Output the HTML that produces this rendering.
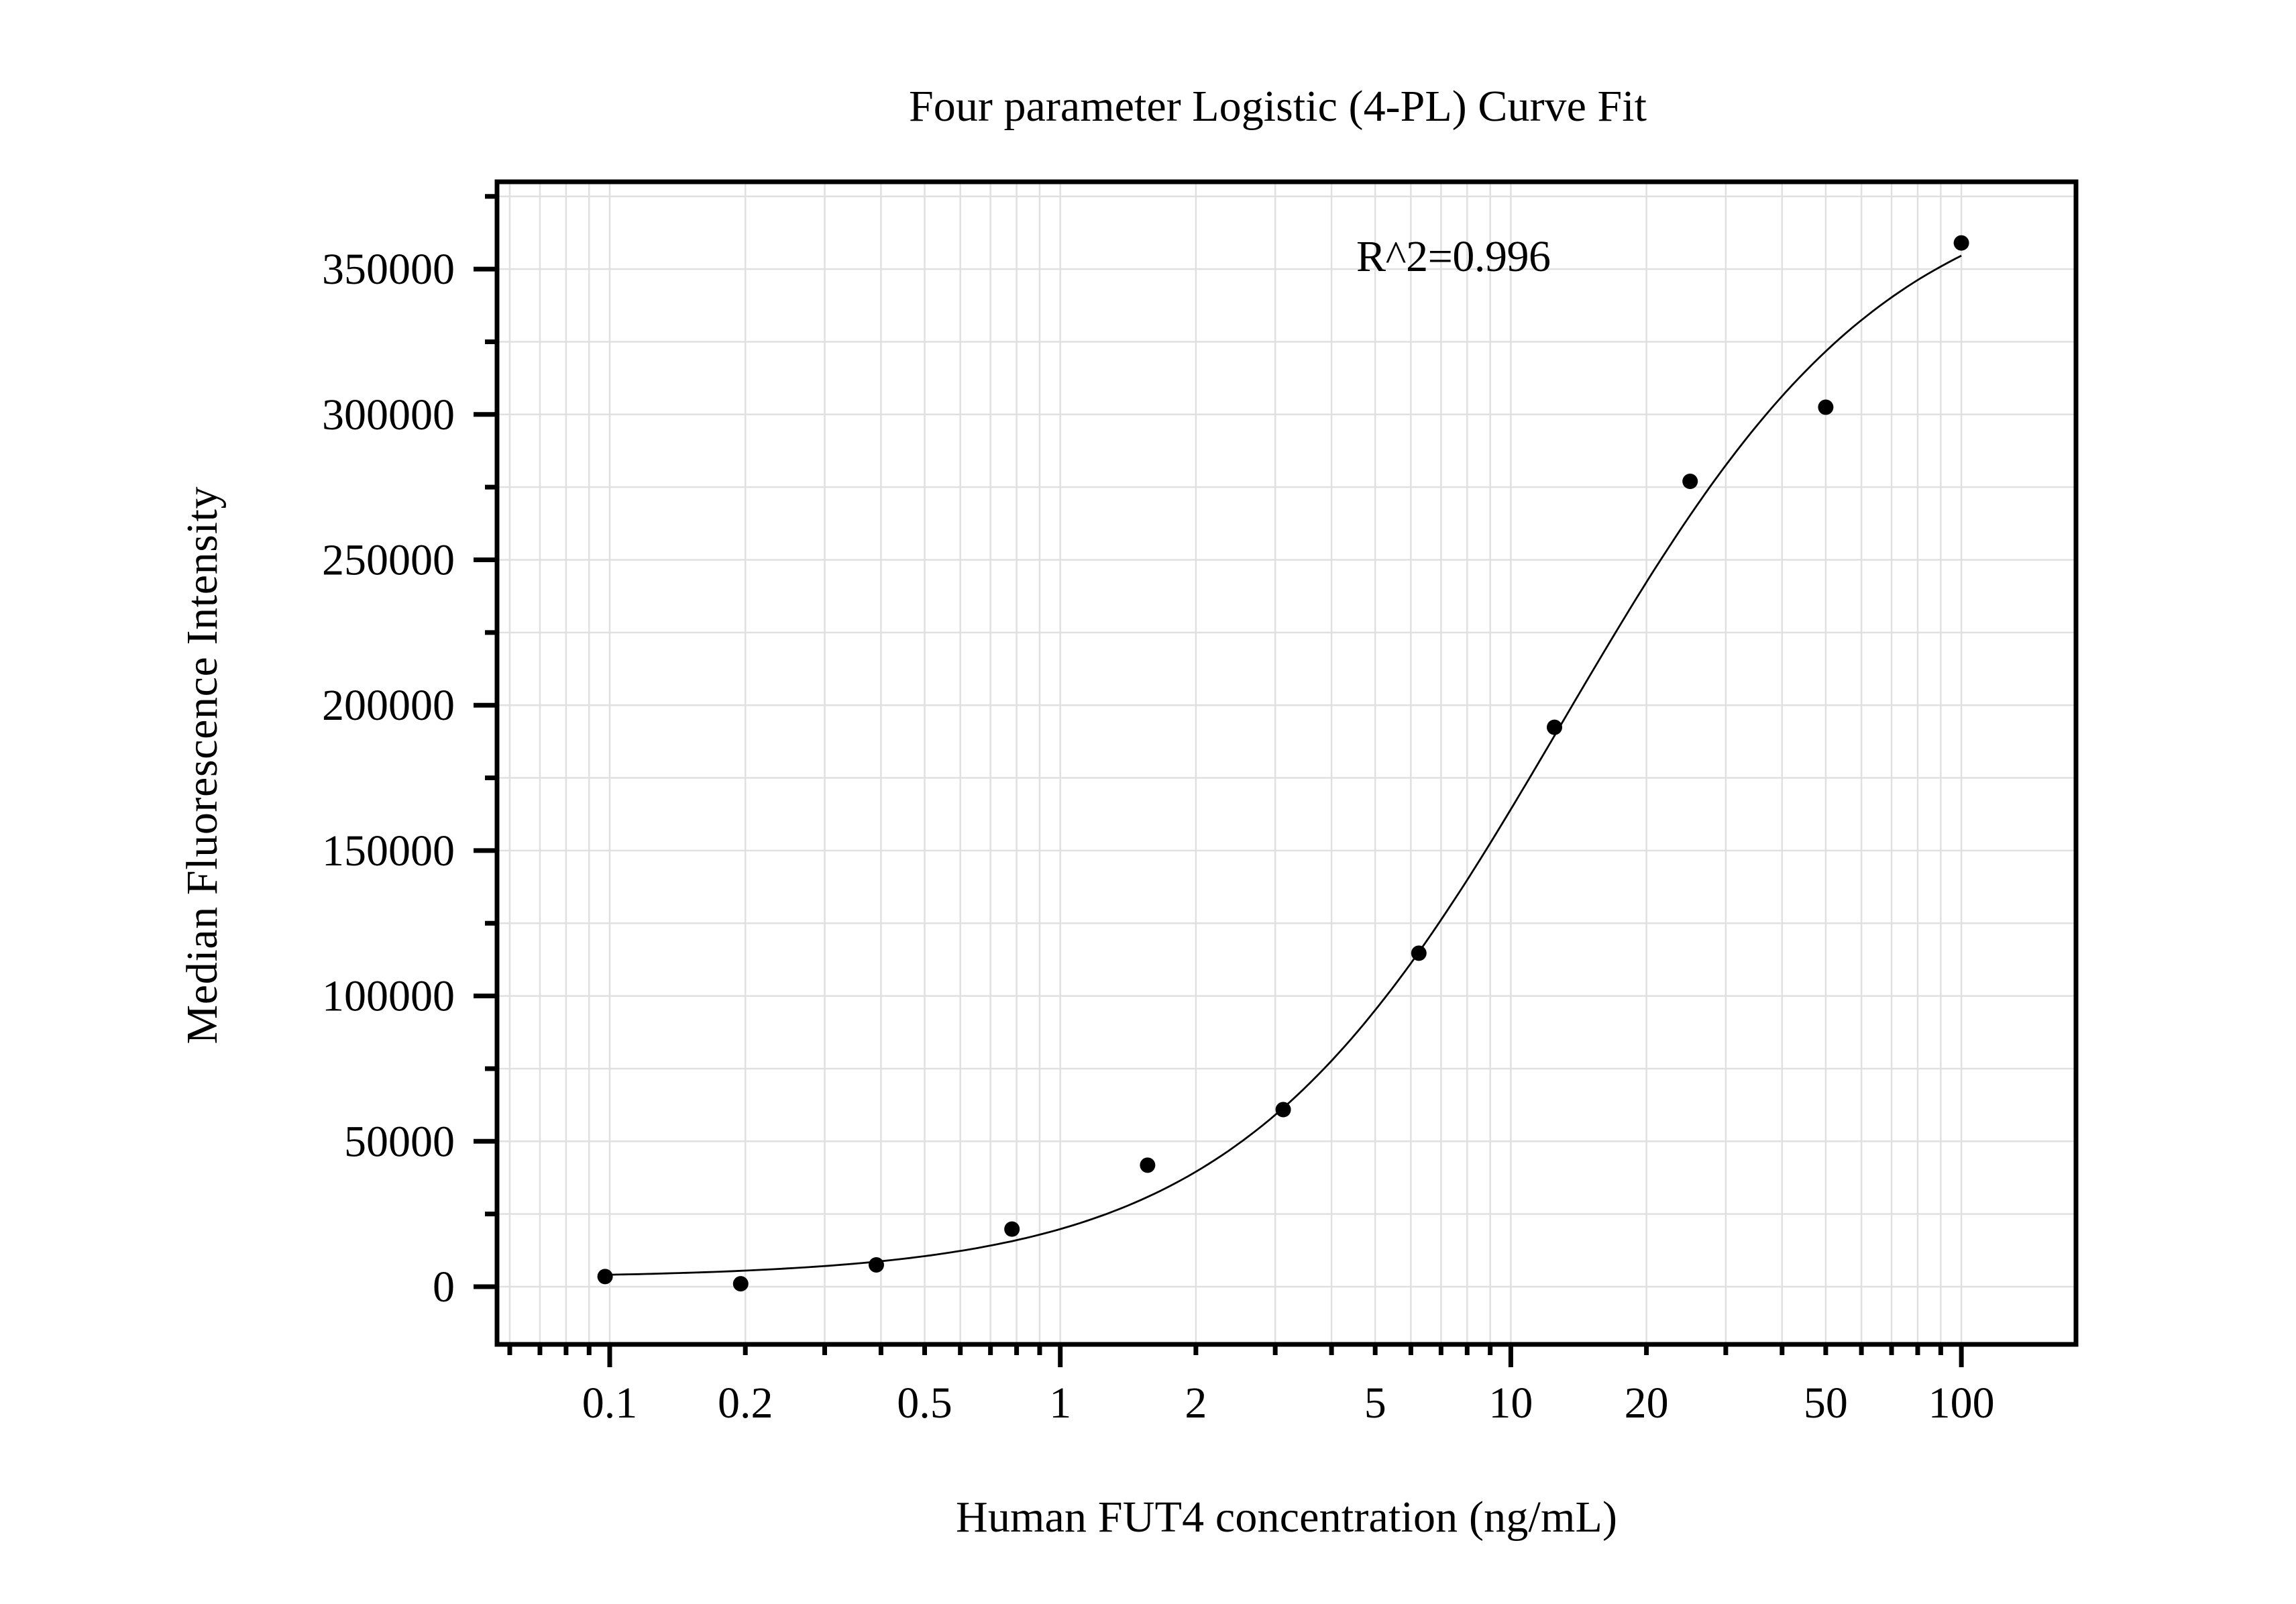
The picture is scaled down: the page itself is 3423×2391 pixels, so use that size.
<!DOCTYPE html>
<html><head><meta charset="utf-8"><style>
html,body{margin:0;padding:0;background:#fff}
svg{display:block}
text{font-family:"Liberation Serif",serif;fill:#000}
</style></head><body>
<svg id="chart" width="3423" height="2391" viewBox="0 0 3423 2391" xmlns="http://www.w3.org/2000/svg">
<rect width="3423" height="2391" fill="#fff"/>
<g id="grid"></g>
<g id="curve"></g>
<g id="points"></g>
<rect x="741" y="271" width="2354" height="1733" fill="none" stroke="#000" stroke-width="7"/>
<g id="axes"></g>
<text x="1905" y="180" font-size="66" text-anchor="middle" textLength="1100">Four parameter Logistic (4-PL) Curve Fit</text>
<text x="2022" y="404" font-size="66" textLength="290">R^2=0.996</text>
<text x="1918" y="2283" font-size="66" text-anchor="middle" textLength="986">Human FUT4 concentration (ng/mL)</text>
<text transform="translate(323,1141) rotate(-90)" font-size="66" text-anchor="middle" textLength="831">Median Fluorescence Intensity</text>
</svg>
<script>
const concentrations = [0.09766, 0.1953, 0.3906, 0.78125, 1.5625, 3.125, 6.25, 12.5, 25, 50, 100];
const intensities = [3500, 1000, 7500, 19800, 41800, 60900, 114700, 192400, 277000, 302500, 359000];
const fitParams = [3000, 385000, 13, 1.2]; // A (bottom), D (top), C (EC50), B (slope)
const xTickValues = [0.1, 0.2, 0.5, 1, 2, 5, 10, 20, 50, 100];
const xTickLabels = ["0.1", "0.2", "0.5", "1", "2", "5", "10", "20", "50", "100"];
const yTickValues = [0, 50000, 100000, 150000, 200000, 250000, 300000, 350000];
const yTickLabels = ["0", "50000", "100000", "150000", "200000", "250000", "300000", "350000"];

const NS = "http://www.w3.org/2000/svg";
const L = 741, R = 3095, T = 271, B = 2004;
const X0 = 909, DEC = 671.7;
function xs(v){ return X0 + Math.log10(v / 0.1) * DEC; }
const Y0 = 1918, PER = 216.7 / 50000;
function ys(v){ return Y0 - v * PER; }
function mk(tag, attrs, parent){ const e = document.createElementNS(NS, tag); for (const k in attrs) e.setAttribute(k, attrs[k]); parent.appendChild(e); return e; }

const grid = document.getElementById('grid');
const axes = document.getElementById('axes');
// x minor/major ticks and grid
for (let d = -2; d <= 2; d++) {
  for (let m = 1; m <= 9; m++) {
    const v = m * Math.pow(10, d);
    const x = xs(v);
    if (x < L + 4 || x > R - 4) continue;
    const g = mk('line', {x1:x, y1:T, x2:x, y2:B, stroke:'#e0e0e0', 'stroke-width':2.5}, grid);
    
    
    const major = (m === 1);
    const t = mk('line', {x1:x, y1:B, x2:x, y2:B + (major ? 34 : 16), stroke:'#000', 'stroke-width':7}, axes);
    
    
  }
}
// y grid & ticks every 25000
for (let v = -25000; v <= 375000; v += 25000) {
  const y = ys(v);
  if (y < T + 4 || y > B - 4) continue;
  const g = mk('line', {x1:L, y1:y, x2:R, y2:y, stroke:'#e0e0e0', 'stroke-width':2.5}, grid);
  
  
  const major = (v % 50000 === 0);
  const t = mk('line', {x1:L, y1:y, x2:L - (major ? 35 : 18), y2:y, stroke:'#000', 'stroke-width':7}, axes);
  
  
}
xTickValues.forEach((v, i) => {
  const t = mk('text', {x:xs(v), y:2113, 'font-size':66, 'text-anchor':'middle'}, axes);
  t.textContent = xTickLabels[i];
  
  
});
yTickValues.forEach((v, i) => {
  const t = mk('text', {x:678, y:ys(v) + 22, 'font-size':66, 'text-anchor':'end'}, axes);
  t.textContent = yTickLabels[i];
  
  
});
// fit curve
function fourPL(x){ const [A, D, C, Bs] = fitParams; return D + (A - D) / (1 + Math.pow(x / C, Bs)); }
let d = '';
const lo = Math.log10(concentrations[0]), hi = Math.log10(concentrations[concentrations.length - 1]);
for (let i = 0; i <= 200; i++) {
  const xv = Math.pow(10, lo + (hi - lo) * i / 200);
  d += (i ? 'L' : 'M') + xs(xv).toFixed(1) + ',' + ys(fourPL(xv)).toFixed(1);
}
const path = mk('path', {d:d, fill:'none', stroke:'#000', 'stroke-width':2.8}, document.getElementById('curve'));


// points
const pts = document.getElementById('points');
concentrations.forEach((c, i) => {
  const p = mk('circle', {cx:xs(c), cy:ys(intensities[i]), r:11.5, fill:'#000'}, pts);
  
  
});
</script>
</body></html>
